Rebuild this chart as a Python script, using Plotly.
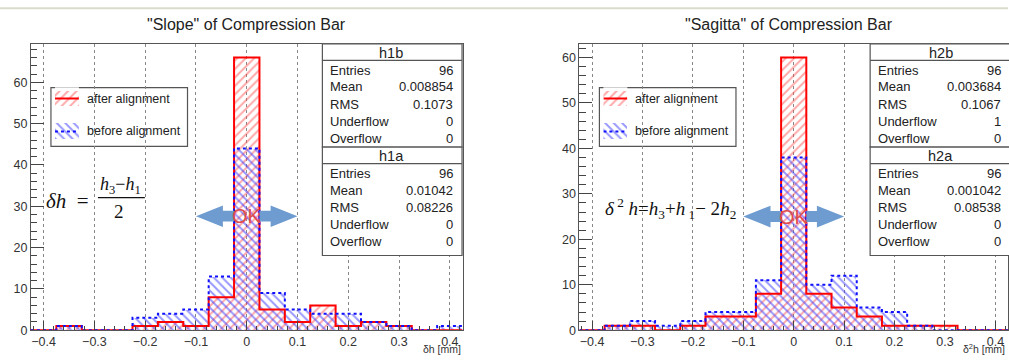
import plotly.graph_objects as go

W, H = 1009, 363

# histogram binning (bin centres, width 0.05 mm)
bin_centers = [-0.40, -0.35, -0.30, -0.25, -0.20, -0.15, -0.10, -0.05, 0.00,
               0.05, 0.10, 0.15, 0.20, 0.25, 0.30, 0.35, 0.40]
bin_width = 0.05

# "Slope" of compression bar
slope_after = [0, 1, 0, 0, 1, 2, 1, 8, 66, 5, 2, 6, 1, 2, 1, 0, 0]
slope_before = [0, 1, 0, 0, 3, 4, 5, 13, 44, 9, 5, 4, 4, 2, 1, 0, 1]

# "Sagitta" of compression bar
sag_after = [0, 1, 1, 0, 1, 3, 3, 8, 60, 8, 5, 3, 1, 1, 1, 0, 0]
sag_before = [0, 1, 2, 1, 2, 4, 4, 11, 38, 10, 12, 5, 4, 1, 0, 0, 0]

x_ticks = [-0.4, -0.3, -0.2, -0.1, 0, 0.1, 0.2, 0.3, 0.4]
x_tick_text = ["\u22120.4", "\u22120.3", "\u22120.2", "\u22120.1", "0", "0.1", "0.2", "0.3", "0.4"]

stat_labels = ["Entries", "Mean", "RMS", "Underflow", "Overflow"]
stats_h1b = ["96", "0.008854", "0.1073", "0", "0"]
stats_h1a = ["96", "0.01042", "0.08226", "0", "0"]
stats_h2b = ["96", "0.003684", "0.1067", "1", "0"]
stats_h2a = ["96", "0.001042", "0.08538", "0", "0"]

legend_labels = ["after alignment", "before alignment"]

RED, RED_HATCH = "#ff0000", "#ff5050"
BLUE, BLUE_HATCH = "#1010ff", "#3030ff"
FONT = "Liberation Sans, Arial, sans-serif"
SERIF = "Liberation Serif, Times New Roman, serif"
HATCH_SIZE, HATCH_SOLID = 6, 0.32


def px(x):
    return x / W


def py(y):
    return 1 - y / H


def edges_and_steps(counts):
    xs = [c - bin_width / 2 for c in bin_centers] + [bin_centers[-1] + bin_width / 2]
    ys = list(counts) + [counts[-1]]
    return xs, ys


def hatch(shape, color):
    return dict(color="rgba(0,0,0,0)", line=dict(width=0),
                pattern=dict(shape=shape, fgcolor=color, bgcolor="rgba(0,0,0,0)",
                             size=HATCH_SIZE, solidity=HATCH_SOLID))


fig = go.Figure()

panels = [
    dict(xa="x", ya="y", after=slope_after, before=slope_before),
    dict(xa="x2", ya="y2", after=sag_after, before=sag_before),
]

for p in panels:
    fig.add_trace(go.Bar(x=bin_centers, y=p["after"], width=bin_width, xaxis=p["xa"], yaxis=p["ya"],
                         marker=hatch("/", RED_HATCH), showlegend=False, hoverinfo="skip"))
    fig.add_trace(go.Bar(x=bin_centers, y=p["before"], width=bin_width, xaxis=p["xa"], yaxis=p["ya"],
                         marker=hatch("\\", BLUE_HATCH), showlegend=False, hoverinfo="skip"))
    xs, ys = edges_and_steps(p["after"])
    fig.add_trace(go.Scatter(x=xs, y=ys, mode="lines", line=dict(color=RED, width=2, shape="hv"),
                             xaxis=p["xa"], yaxis=p["ya"], showlegend=False, hoverinfo="skip"))
    xs, ys = edges_and_steps(p["before"])
    fig.add_trace(go.Scatter(x=xs, y=ys, mode="lines",
                             line=dict(color=BLUE, width=2, shape="hv", dash="dot"),
                             xaxis=p["xa"], yaxis=p["ya"], showlegend=False, hoverinfo="skip"))

# legend symbol boxes (pixel-unit helper axes)
legend_sym = [
    dict(xa="x3", ya="y3", x0=55, x1=79),
    dict(xa="x4", ya="y4", x0=604, x1=628),
]
legend_rows = [100.5, 134.0]
for s in legend_sym:
    cx = (s["x0"] + s["x1"]) / 2
    wd = s["x1"] - s["x0"]
    fig.add_trace(go.Bar(x=[cx], y=[15], base=[legend_rows[0] - 7.5], width=[wd],
                         xaxis=s["xa"], yaxis=s["ya"], marker=hatch("/", RED_HATCH),
                         showlegend=False, hoverinfo="skip"))
    fig.add_trace(go.Bar(x=[cx], y=[17], base=[legend_rows[1] - 8.5], width=[wd],
                         xaxis=s["xa"], yaxis=s["ya"], marker=hatch("\\", BLUE_HATCH),
                         showlegend=False, hoverinfo="skip"))
    fig.add_trace(go.Scatter(x=[s["x0"], s["x1"]], y=[legend_rows[0]] * 2, mode="lines",
                             line=dict(color=RED, width=2), xaxis=s["xa"], yaxis=s["ya"],
                             showlegend=False, hoverinfo="skip"))
    fig.add_trace(go.Scatter(x=[s["x0"], s["x1"]], y=[legend_rows[1]] * 2, mode="lines",
                             line=dict(color=BLUE, width=2, dash="dot"), xaxis=s["xa"], yaxis=s["ya"],
                             showlegend=False, hoverinfo="skip"))

ydom = [py(336.7), py(44.7)]
axis_common = dict(
    showline=True, linecolor="#555", linewidth=1, mirror=True,
    ticks="inside", tickcolor="#444", zeroline=False,
    tickfont=dict(family=FONT, size=12.5, color="#333"),
)
xaxis_common = dict(
    axis_common, range=[-0.425, 0.425], tickvals=x_ticks, ticktext=x_tick_text,
    ticklen=9, showgrid=True, gridcolor="#888", griddash="dot", gridwidth=1,
    minor=dict(ticks="inside", ticklen=4.5, dtick=0.02, tick0=0, tickcolor="#444", showgrid=False),
)
yaxis_common = dict(
    axis_common, dtick=10, ticklen=13, showgrid=False,
    minor=dict(ticks="inside", ticklen=6.5, dtick=2, tickcolor="#444", showgrid=False),
)

helper_axis = dict(visible=False, showgrid=False, zeroline=False, fixedrange=True)

fig.update_layout(
    width=W, height=H, margin=dict(l=0, r=0, t=0, b=0),
    paper_bgcolor="white", plot_bgcolor="white",
    barmode="overlay", bargap=0,
    xaxis=dict(xaxis_common, domain=[px(31), px(463)], anchor="y"),
    yaxis=dict(yaxis_common, domain=ydom, range=[0, 69.3], anchor="x"),
    xaxis2=dict(xaxis_common, domain=[px(580), 1.0], anchor="y2"),
    yaxis2=dict(yaxis_common, domain=ydom, range=[0, 63.0], anchor="x2"),
    xaxis3=dict(helper_axis, domain=[px(55), px(79)], range=[55, 79], anchor="y3"),
    yaxis3=dict(helper_axis, domain=[py(146), py(89)], range=[146, 89], anchor="x3"),
    xaxis4=dict(helper_axis, domain=[px(604), px(628)], range=[604, 628], anchor="y4"),
    yaxis4=dict(helper_axis, domain=[py(146), py(89)], range=[146, 89], anchor="x4"),
    showlegend=False,
)

shapes = []
annotations = []

# thin rule across the top
shapes.append(dict(type="line", xref="paper", yref="paper", x0=0, x1=1, y0=py(8.3), y1=py(8.3),
                   line=dict(color="#d9dccb", width=2), layer="below"))

# panel titles
for cx, title in [(247, "\"Slope\" of Compression Bar"), (790, "\"Sagitta\" of Compression Bar")]:
    annotations.append(dict(x=px(cx), y=py(25), xref="paper", yref="paper", text=title,
                            showarrow=False, xanchor="center", yanchor="middle",
                            font=dict(family=FONT, size=16, color="#222")))

# axis titles
annotations.append(dict(x=px(462), y=0, xref="paper", yref="paper", text="\u03b4h [mm]",
                        showarrow=False, xanchor="right", yanchor="bottom", borderpad=0,
                        font=dict(family=FONT, size=10.5, color="#333")))
annotations.append(dict(x=px(963), y=0, xref="paper", yref="paper",
                        text="\u03b4<sup>2</sup>h [mm]", borderpad=0,
                        showarrow=False, xanchor="left", yanchor="bottom",
                        font=dict(family=FONT, size=10.5, color="#333")))


# statistics boxes
def stats_box(x0, x1, label_x, value_x, head_x, blocks):
    row_off = [17.7, 35.0, 52.7, 70.0, 87.7]
    for (name, values, top, bottom) in blocks:
        shapes.append(dict(type="rect", xref="paper", yref="paper", x0=px(x0), x1=px(x1),
                           y0=py(bottom), y1=py(top), fillcolor="white",
                           line=dict(color="#555", width=1.2), layer="above"))
        shapes.append(dict(type="line", xref="paper", yref="paper", x0=px(x0), x1=px(x1),
                           y0=py(top + 16.8), y1=py(top + 16.8),
                           line=dict(color="#555", width=1.2), layer="above"))
        annotations.append(dict(x=px(head_x), y=py(top + 9), xref="paper", yref="paper",
                                text=name, showarrow=False, xanchor="center", yanchor="middle",
                                font=dict(family=FONT, size=14.5, color="#222")))
        for lab, val, off in zip(stat_labels, values, row_off):
            yy = top + 9 + off
            annotations.append(dict(x=px(label_x), y=py(yy), xref="paper", yref="paper", text=lab,
                                    showarrow=False, xanchor="left", yanchor="middle",
                                    font=dict(family=FONT, size=13, color="#222")))
            annotations.append(dict(x=px(value_x), y=py(yy), xref="paper", yref="paper", text=val,
                                    showarrow=False, xanchor="right", yanchor="middle",
                                    font=dict(family=FONT, size=13, color="#222")))


stats_box(322.7, 462.5, 328, 455, 391.7,
          [("h1b", stats_h1b, 44.7, 150.0), ("h1a", stats_h1a, 150.0, 260.5)])
stats_box(871, 1015, 876.5, 1003.5, 941.7,
          [("h2b", stats_h2b, 44.7, 150.0), ("h2a", stats_h2a, 150.0, 260.5)])

# legends
for (x0, x1, tx) in [(51, 187.7, 85), (600, 736.7, 633.5)]:
    shapes.append(dict(type="rect", xref="paper", yref="paper", x0=px(x0), x1=px(x1),
                       y0=py(149.3), y1=py(89.3), fillcolor="white",
                       line=dict(color="#555", width=1.2), layer="below"))
    for lab, yy in zip(legend_labels, legend_rows):
        annotations.append(dict(x=px(tx), y=py(yy), xref="paper", yref="paper", text=lab,
                                showarrow=False, xanchor="left", yanchor="middle",
                                font=dict(family=FONT, size=12.5, color="#222")))


# double arrows with "OK" around the central bin
def ok_arrow(xa, ya, yc, hh, sh, hl):
    lo, hi = -0.1, 0.1
    inner = bin_width / 2
    left = (f"M {lo},{yc} L {lo + hl},{yc + hh} L {lo + hl},{yc + sh} L {-inner},{yc + sh} "
            f"L {-inner},{yc - sh} L {lo + hl},{yc - sh} L {lo + hl},{yc - hh} Z")
    right = (f"M {hi},{yc} L {hi - hl},{yc + hh} L {hi - hl},{yc + sh} L {inner},{yc + sh} "
             f"L {inner},{yc - sh} L {hi - hl},{yc - sh} L {hi - hl},{yc - hh} Z")
    for path in (left, right):
        shapes.append(dict(type="path", xref=xa, yref=ya, path=path,
                           fillcolor="#6f9cd0", line=dict(width=0), layer="above"))
    annotations.append(dict(x=0, y=yc, xref=xa, yref=ya, text="OK", showarrow=False,
                            xanchor="center", yanchor="middle",
                            font=dict(family=FONT, size=20, color="#e04c4c")))


ok_arrow("x", "y", 27.6, 2.6, 1.3, 0.053)
ok_arrow("x2", "y2", 25.0, 2.4, 1.2, 0.054)

# formulas
annotations.append(dict(x=px(44), y=py(205), xref="paper", yref="paper",
                        text="<i>\u03b4h</i>  =", showarrow=False, xanchor="left", yanchor="middle",
                        font=dict(family=SERIF, size=21, color="#111")))
annotations.append(dict(x=px(121), y=py(189), xref="paper", yref="paper",
                        text="<i>h</i><sub>3</sub>\u2212<i>h</i><sub>1</sub>", showarrow=False,
                        xanchor="center", yanchor="middle",
                        font=dict(family=SERIF, size=18, color="#111")))
shapes.append(dict(type="line", xref="paper", yref="paper", x0=px(98), x1=px(145),
                   y0=py(201.5), y1=py(201.5), line=dict(color="#111", width=1.2)))
annotations.append(dict(x=px(119), y=py(216), xref="paper", yref="paper",
                        text="2", showarrow=False, xanchor="center", yanchor="middle",
                        font=dict(family=SERIF, size=19, color="#111")))
annotations.append(dict(x=px(604), y=py(213), xref="paper", yref="paper",
                        text="<i>\u03b4</i><sup> 2</sup> <i>h</i>=<i>h</i><sub>3</sub>+<i>h</i><sub> 1</sub>\u2212 2<i>h</i><sub>2</sub>",
                        showarrow=False, xanchor="left", yanchor="middle",
                        font=dict(family=SERIF, size=19, color="#111")))

fig.update_layout(shapes=shapes, annotations=annotations)
fig.write_html("out.html")
